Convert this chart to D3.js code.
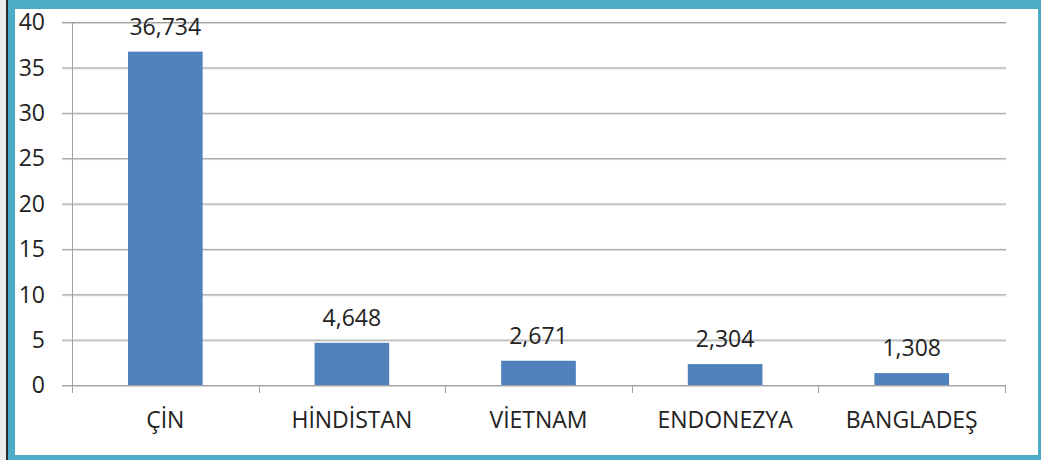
<!DOCTYPE html>
<html>
<head>
<meta charset="utf-8">
<script src="https://cdn.jsdelivr.net/npm/d3@7"></script>
<style>
  html, body { margin: 0; padding: 0; background: #ebebeb; }
  svg { display: block; }
  text { font-family: "Open Sans", "DejaVu Sans", sans-serif; fill: #222222; }
</style>
</head>
<body>
<div id="chart"></div>
<script>
// countries and values
var categories = ["ÇİN", "HİNDİSTAN", "VİETNAM", "ENDONEZYA", "BANGLADEŞ"];
var values = [36.734, 4.648, 2.671, 2.304, 1.308];
var yTicks = [0, 5, 10, 15, 20, 25, 30, 35, 40];

var width = 1041, height = 460;

var svg = d3.select('#chart')
  .append('svg')
  .attr('width', width)
  .attr('height', height);

// frame: dark edge, teal border, white inside
svg.append('rect').attr('x', 0).attr('y', 0).attr('width', width).attr('height', height).attr('fill', '#ebebeb');
svg.append('rect').attr('x', 6).attr('y', 0).attr('width', width - 6).attr('height', height).attr('fill', '#2b2b2b');
svg.append('rect').attr('x', 8).attr('y', 0).attr('width', width - 8).attr('height', height).attr('fill', '#4bacc6');
svg.append('rect').attr('x', 15).attr('y', 9).attr('width', 1038 - 15).attr('height', 455 - 9).attr('fill', '#ffffff');

var axisX = 72, gridLeft = 62, gridRight = 1006;

var x = d3.scaleBand()
  .domain(categories)
  .range([axisX, 1005])
  .paddingInner(0.6)
  .paddingOuter(0.3);

var y = d3.scaleLinear()
  .domain([0, 40])
  .range([385, 22]);

var fmt = d3.formatLocale({decimal: ",", thousands: ".", grouping: [3], currency: ["", ""]}).format(".3f");

// gridlines (with a soft shadow underneath)
var grid = svg.append('g');
grid.selectAll('.shadow')
  .data(yTicks)
  .enter()
  .append('line')
  .attr('x1', gridLeft).attr('x2', gridRight)
  .attr('y1', function (d) { return y(d) + 1.5; })
  .attr('y2', function (d) { return y(d) + 1.5; })
  .attr('stroke', '#d6d6d6')
  .attr('stroke-width', 1);
grid.selectAll('.gl')
  .data(yTicks)
  .enter()
  .append('line')
  .attr('x1', gridLeft).attr('x2', gridRight)
  .attr('y1', function (d) { return y(d) + 0.5; })
  .attr('y2', function (d) { return y(d) + 0.5; })
  .attr('stroke', '#a2a2a2')
  .attr('stroke-width', 1);

// y tick labels
svg.selectAll('.ylab')
  .data(yTicks)
  .enter()
  .append('text')
  .attr('x', 45)
  .attr('y', function (d) { return y(d); })
  .attr('dy', '0.36em')
  .attr('text-anchor', 'end')
  .style('font-size', '23px')
  .text(function (d) { return d; });

// y axis line
svg.append('line')
  .attr('x1', axisX + 0.5).attr('x2', axisX + 0.5)
  .attr('y1', y(40)).attr('y2', y(0) + 8)
  .attr('stroke', '#a2a2a2');

// x axis ticks at category boundaries
var bounds = categories.map(function (c) { return x(c) - x.step() * x.paddingOuter(); });
bounds.push(x(categories[categories.length - 1]) + x.bandwidth() + x.step() * x.paddingOuter());
svg.selectAll('.xtick')
  .data(bounds.slice(1))
  .enter()
  .append('line')
  .attr('x1', function (d) { return Math.round(d) + 0.5; })
  .attr('x2', function (d) { return Math.round(d) + 0.5; })
  .attr('y1', y(0)).attr('y2', y(0) + 8)
  .attr('stroke', '#a2a2a2');

// bars
svg.selectAll('.bar')
  .data(values)
  .enter()
  .append('rect')
  .attr('x', function (d, i) { return x(categories[i]); })
  .attr('y', function (d) { return y(d); })
  .attr('width', x.bandwidth())
  .attr('height', function (d) { return y(0) - y(d); })
  .attr('fill', '#4f81bd');

// value labels
svg.selectAll('.vlab')
  .data(values)
  .enter()
  .append('text')
  .attr('x', function (d, i) { return x(categories[i]) + x.bandwidth() / 2; })
  .attr('y', function (d) { return y(d) - 17; })
  .attr('text-anchor', 'middle')
  .style('font-size', '23px')
  .text(function (d) { return fmt(d); });

// category labels
svg.selectAll('.xlab')
  .data(categories)
  .enter()
  .append('text')
  .attr('x', function (d) { return x(d) + x.bandwidth() / 2; })
  .attr('y', 428)
  .attr('text-anchor', 'middle')
  .style('font-size', '23px')
  .text(function (d) { return d; });
</script>
</body>
</html>
